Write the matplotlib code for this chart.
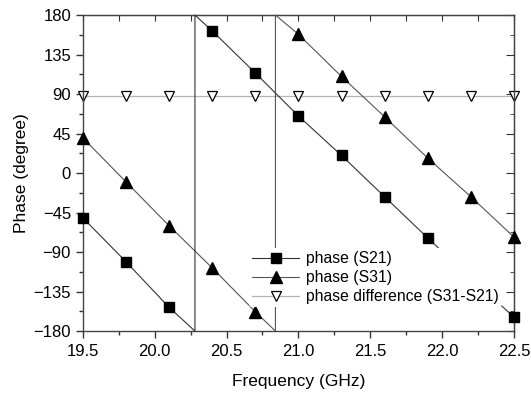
import matplotlib.pyplot as plt
from matplotlib.ticker import MultipleLocator

plt.rcParams["font.family"] = ["Liberation Sans", "DejaVu Sans"]

# S21 phase (wraps from -180 to 180 near 20.28 GHz)
s21_freq = [19.5, 19.8, 20.1, 20.28, 20.28, 20.4, 20.7, 21.0, 21.3, 21.6, 21.9, 22.2, 22.5]
s21_phase = [-51, -101, -153, -180, 180, 162, 114, 65, 20, -27, -74, -120, -164]
s21_marks = [0, 1, 2, 5, 6, 7, 8, 9, 10, 11, 12]

# S31 phase (wraps near 20.84 GHz)
s31_freq = [19.5, 19.8, 20.1, 20.4, 20.7, 20.84, 20.84, 21.0, 21.3, 21.6, 21.9, 22.2, 22.5]
s31_phase = [40, -10, -60, -108, -158, -180, 180, 158, 110, 64, 17, -27, -73]
s31_marks = [0, 1, 2, 3, 4, 7, 8, 9, 10, 11, 12]

# phase difference
diff_freq = [19.5, 19.8, 20.1, 20.4, 20.7, 21.0, 21.3, 21.6, 21.9, 22.2, 22.5]
diff_phase = [88, 88, 88, 88, 88, 88, 88, 88, 88, 88, 88]


def main():
    fig = plt.figure(figsize=(5.31, 3.96), dpi=100)
    ax = fig.add_axes([0.156, 0.164, 0.812, 0.798])

    ax.plot(diff_freq, diff_phase, color="#b5b5b5", lw=0.9, marker="v",
            ms=7, mfc="white", mec="black", mew=0.9,
            label="phase difference (S31-S21)", clip_on=False, zorder=2)
    ax.plot(s31_freq, s31_phase, color="#555555", lw=0.8, marker="^",
            ms=8, mfc="black", mec="black", markevery=s31_marks,
            label="phase (S31)", clip_on=False, zorder=3)
    ax.plot(s21_freq, s21_phase, color="#333333", lw=0.8, marker="s",
            ms=6.5, mfc="black", mec="black", markevery=s21_marks,
            label="phase (S21)", clip_on=False, zorder=3)

    ax.set_xlim(19.5, 22.5)
    ax.set_ylim(-180, 180)
    ax.xaxis.set_major_locator(MultipleLocator(0.5))
    ax.xaxis.set_minor_locator(MultipleLocator(0.25))
    ax.yaxis.set_major_locator(MultipleLocator(45))
    ax.yaxis.set_minor_locator(MultipleLocator(22.5))

    ax.tick_params(which="both", direction="out", labelsize=12, color="#333333")
    ax.tick_params(which="major", length=5, width=1)
    ax.tick_params(which="minor", length=3, width=1)
    ax.tick_params(axis="x", pad=4)
    for sp in ax.spines.values():
        sp.set_color("#444444")
        sp.set_linewidth(1)

    # top / right inward ticks
    ax_t = ax.secondary_xaxis("top")
    ax_t.xaxis.set_major_locator(MultipleLocator(0.25))
    ax_t.tick_params(direction="in", length=4, labeltop=False, color="#333333")
    ax_r = ax.secondary_yaxis("right")
    ax_r.yaxis.set_major_locator(MultipleLocator(45))
    ax_r.yaxis.set_minor_locator(MultipleLocator(22.5))
    ax_r.tick_params(which="major", direction="in", length=6, labelright=False, color="#333333")
    ax_r.tick_params(which="minor", direction="in", length=3, color="#333333")

    ax.set_xlabel("Frequency (GHz)", fontsize=12.5, labelpad=11)
    ax.set_ylabel("Phase (degree)", fontsize=12.5, labelpad=3)

    handles, labels = ax.get_legend_handles_labels()
    leg = ax.legend(handles[::-1], labels[::-1], loc="upper left",
                    bbox_to_anchor=(0.386, 0.262), frameon=True, fontsize=11.3,
                    handlelength=3.0, handletextpad=0.4, labelspacing=0.25,
                    borderpad=0.2, borderaxespad=0)
    leg.get_frame().set_edgecolor("none")
    leg.get_frame().set_facecolor("white")
    leg.get_frame().set_alpha(1)
    leg.set_zorder(5)

    fig.savefig("out.png", dpi=100)
    plt.close(fig)


if __name__ == "__main__":
    main()
